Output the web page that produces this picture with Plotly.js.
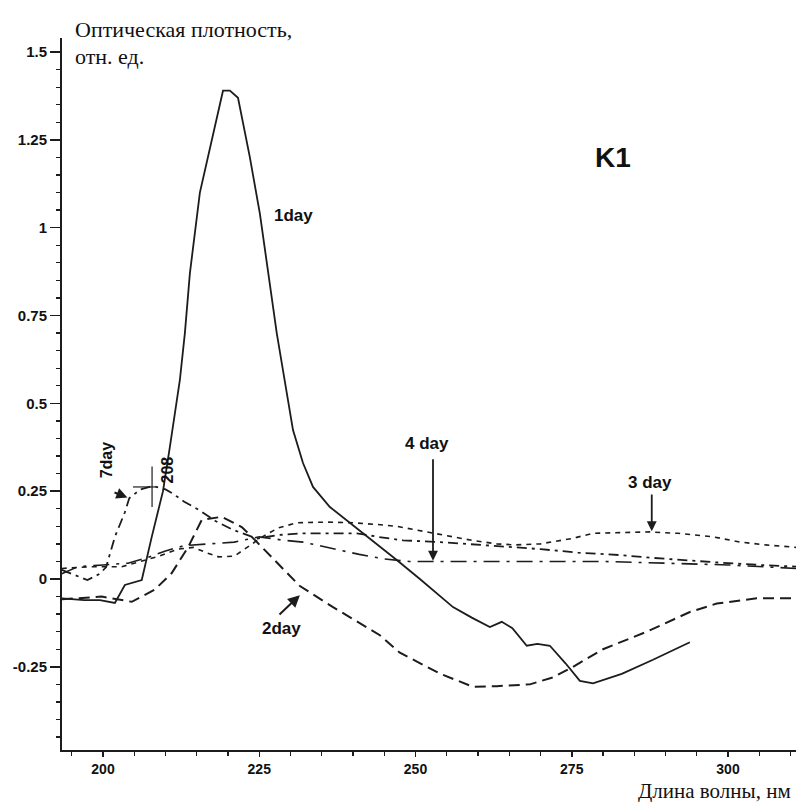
<!DOCTYPE html>
<html><head><meta charset="utf-8">
<script src="https://cdn.plot.ly/plotly-3.0.1.min.js"></script>
<style>html,body{margin:0;padding:0;background:#fff}#c{width:796px;height:802px}</style>
</head><body><div id="c"></div>
<script>
// 1 day (solid)
const wl1 = [193.4,197,199.5,201.9,203.5,206.2,207.8,209.6,210.7,212.3,213.1,213.9,215.5,217.6,219.2,220.3,221.6,223.5,225.1,227.8,229.1,230.4,232,233.6,236.3,239.5,243.2,247,250.7,253.9,256,259,261.9,263.8,265.5,267.8,269.5,271.5,274,276.3,278.4,283,288,293.9];
const od1 = [-0.055,-0.06,-0.06,-0.068,-0.017,-0.003,0.12,0.25,0.376,0.567,0.70,0.87,1.10,1.27,1.39,1.39,1.37,1.20,1.04,0.70,0.567,0.424,0.33,0.262,0.205,0.16,0.11,0.054,0.0,-0.05,-0.08,-0.11,-0.137,-0.122,-0.14,-0.19,-0.185,-0.19,-0.24,-0.29,-0.297,-0.27,-0.23,-0.18];
// 2 day (long dash)
const wl2 = [193.4,199.8,203,204.6,208.3,211,213.6,215.8,219,222.2,223.8,227.8,230.4,231.5,236.8,242.2,244.3,247.5,249.6,254,259.2,263,268.3,272,275.2,280,287,293.9,298.2,304.6,310.9];
const od2 = [-0.058,-0.05,-0.06,-0.065,-0.03,0.017,0.09,0.168,0.177,0.148,0.12,0.048,0.0,-0.02,-0.08,-0.137,-0.16,-0.21,-0.23,-0.27,-0.307,-0.305,-0.30,-0.28,-0.25,-0.2,-0.15,-0.094,-0.07,-0.055,-0.055];
// 3 day (short dash)
const wl3 = [193.4,198,203,206,209,212,214.5,216.5,218.5,221,223,225.5,228,231,236,240,244,247,250,253,256,259,263,266,270,275,278.4,283,287.5,292,297.6,302,306,310.9];
const od3 = [0.03,0.035,0.035,0.05,0.065,0.085,0.09,0.075,0.063,0.065,0.09,0.12,0.145,0.16,0.162,0.16,0.155,0.15,0.14,0.13,0.12,0.11,0.10,0.097,0.10,0.115,0.13,0.133,0.134,0.13,0.12,0.105,0.097,0.09];
// 4 day (long dash-dot)
const wl4 = [193.4,196,200,204,207,210,213,217,221,225,229,232,237,241,245,249,253,260,270,280,290,300,310.9];
const od4 = [0.015,0.035,0.04,0.045,0.06,0.08,0.095,0.1,0.105,0.12,0.11,0.105,0.085,0.07,0.057,0.05,0.05,0.05,0.048,0.05,0.045,0.04,0.03];
// 7 day (dash-dot)
const wl7 = [193.4,195.5,197.5,199.5,200.5,201.9,203.5,204.2,206,208,210,211,213,215.5,218,220.8,224.6,228,232,236,240.6,244,248,254,258,262,266,270,276,282.7,288,294,300,305,310.9];
const od7 = [0.026,0.01,-0.003,0.015,0.034,0.12,0.19,0.23,0.255,0.265,0.255,0.245,0.22,0.195,0.165,0.14,0.115,0.125,0.13,0.13,0.13,0.12,0.11,0.105,0.1,0.095,0.09,0.085,0.075,0.068,0.06,0.052,0.045,0.04,0.035];

const ink = '#1c1c1c';
const traces = [
  {x: wl1, y: od1, mode: 'lines', line: {color: ink, width: 1.8, dash: 'solid'}},
  {x: wl2, y: od2, mode: 'lines', line: {color: ink, width: 2, dash: '11px,6px'}},
  {x: wl3, y: od3, mode: 'lines', line: {color: ink, width: 1.6, dash: '5px,5px'}},
  {x: wl4, y: od4, mode: 'lines', line: {color: ink, width: 1.6, dash: '16px,7px,3px,7px'}},
  {x: wl7, y: od7, mode: 'lines', line: {color: ink, width: 1.8, dash: '10px,5px,3px,5px'}}
];

const yTickVals = [-0.25, 0, 0.25, 0.5, 0.75, 1, 1.25, 1.5];
const yTickText = ['-0.25', '0', '0.25', '0.5', '0.75', '1', '1.25', '1.5'];
const xTickVals = [200, 225, 250, 275, 300];
const xTickText = ['200', '225', '250', '275', '300'];

const SANS = '"Liberation Sans", Arial, sans-serif';
const SERIF = '"Liberation Serif", "DejaVu Serif", serif';
const lblFont = {family: SANS, size: 17, color: '#111', weight: 'bold'};

const layout = {
  width: 796, height: 802,
  margin: {l: 62, r: 0, t: 38, b: 52},
  paper_bgcolor: '#fff', plot_bgcolor: '#fff',
  showlegend: false,
  xaxis: {
    range: [193.44, 310.88], showgrid: false, zeroline: false,
    showline: true, linecolor: ink, linewidth: 2,
    ticks: 'outside', ticklen: 5, tickwidth: 1.5, tickcolor: ink,
    tickmode: 'array', tickvals: xTickVals, ticktext: xTickText,
    tickfont: {family: SANS, size: 14, color: '#111', weight: 'bold'},
    minor: {tickmode: 'linear', tick0: 200, dtick: 5, ticks: 'outside', ticklen: 4, tickwidth: 1.3, tickcolor: ink},
    fixedrange: true
  },
  yaxis: {
    range: [-0.4868, 1.54], showgrid: false, zeroline: false,
    showline: true, linecolor: ink, linewidth: 2,
    ticks: 'outside', ticklen: 10, tickwidth: 1.5, tickcolor: ink,
    tickmode: 'array', tickvals: yTickVals, ticktext: yTickText,
    tickfont: {family: SANS, size: 15, color: '#111', weight: 'bold'},
    minor: {tickmode: 'linear', tick0: 0, dtick: 0.05, ticks: 'outside', ticklen: 4, tickwidth: 1.3, tickcolor: ink},
    fixedrange: true
  },
  shapes: [
    {type: 'line', xref: 'x', yref: 'y', x0: 207.85, x1: 207.85, y0: 0.205, y1: 0.32, line: {color: ink, width: 1.2}},
    {type: 'line', xref: 'x', yref: 'y', x0: 204.8, x1: 208.4, y0: 0.262, y1: 0.262, line: {color: ink, width: 1.2}}
  ],
  annotations: [
    {xref: 'paper', yref: 'paper', x: 0.015, y: 1.0126, xanchor: 'left', yanchor: 'middle', align: 'left',
     text: 'Оптическая плотность,', showarrow: false,
     font: {family: SERIF, size: 22, color: '#111'}},
    {xref: 'paper', yref: 'paper', x: 0.015, y: 0.9747, xanchor: 'left', yanchor: 'middle', align: 'left',
     text: 'отн. ед.', showarrow: false,
     font: {family: SERIF, size: 22, color: '#111'}},
    {xref: 'paper', yref: 'paper', x: 0.996, y: -0.0772, xanchor: 'right', yanchor: 'bottom',
     text: 'Длина волны, нм', showarrow: false,
     font: {family: SERIF, size: 21, color: '#111'}},
    {xref: 'x', yref: 'y', x: 281.6, y: 1.20, text: 'K1', showarrow: false,
     font: {family: SANS, size: 28, color: '#111', weight: 'bold'}},
    {xref: 'x', yref: 'y', x: 230.4, y: 1.036, text: '1day', showarrow: false, font: lblFont},
    {xref: 'x', yref: 'y', x: 228.6, y: -0.14, text: '2day', showarrow: false, font: lblFont},
    {xref: 'x', yref: 'y', x: 231.5, y: -0.046, ax: 228.0, ay: -0.105, axref: 'x', ayref: 'y',
     text: '', showarrow: true, arrowhead: 2, arrowsize: 1.2, arrowwidth: 2, arrowcolor: ink},
    {xref: 'x', yref: 'y', x: 251.8, y: 0.387, text: '4 day', showarrow: false, font: lblFont},
    {xref: 'x', yref: 'y', x: 252.8, y: 0.052, ax: 252.8, ay: 0.345, axref: 'x', ayref: 'y',
     text: '', showarrow: true, arrowhead: 2, arrowsize: 1.1, arrowwidth: 1.8, arrowcolor: ink},
    {xref: 'x', yref: 'y', x: 287.5, y: 0.276, text: '3 day', showarrow: false, font: lblFont},
    {xref: 'x', yref: 'y', x: 287.8, y: 0.136, ax: 287.8, ay: 0.245, axref: 'x', ayref: 'y',
     text: '', showarrow: true, arrowhead: 2, arrowsize: 1.1, arrowwidth: 1.8, arrowcolor: ink},
    {xref: 'x', yref: 'y', x: 200.6, y: 0.34, text: '7day', textangle: -90, showarrow: false,
     font: {family: SANS, size: 16, color: '#111', weight: 'bold'}},
    {xref: 'x', yref: 'y', x: 203.9, y: 0.232, ax: 201.6, ay: 0.248, axref: 'x', ayref: 'y',
     text: '', showarrow: true, arrowhead: 2, arrowsize: 1.1, arrowwidth: 2, arrowcolor: ink},
    {xref: 'x', yref: 'y', x: 210.3, y: 0.31, text: '208', textangle: -90, showarrow: false,
     font: {family: SANS, size: 16, color: '#111', weight: 'bold'}}
  ]
};

Plotly.newPlot('c', traces, layout, {displayModeBar: false, staticPlot: true});
</script></body></html>
